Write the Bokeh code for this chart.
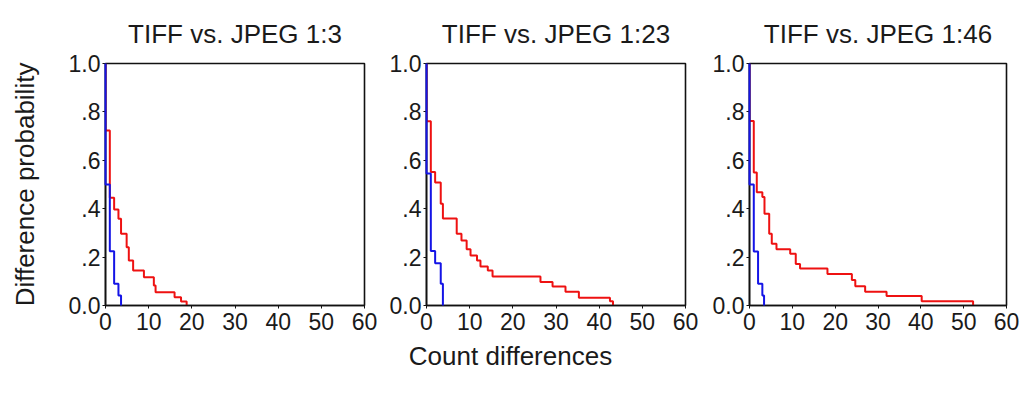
from bokeh.plotting import figure
from bokeh.layouts import row, column
from bokeh.models import Range1d, FixedTicker
from bokeh.core.properties import value
from bokeh.embed import file_html
from bokeh.resources import INLINE

# ---- data ----
titles = ["TIFF vs. JPEG 1:3", "TIFF vs. JPEG 1:23", "TIFF vs. JPEG 1:46"]
x_ticks = [0, 10, 20, 30, 40, 50, 60]
y_ticks = [0.0, 0.2, 0.4, 0.6, 0.8, 1.0]
y_tick_labels = ["0.0", ".2", ".4", ".6", ".8", "1.0"]
y_label = "Difference probability"
x_label = "Count differences"

# panel 1 (1:3)
blue1_x = [0, 0, 1, 2, 3, 3.6]
blue1_y = [1.0, 0.5, 0.224, 0.09, 0.041, 0.0]
red1_x = [0, 0, 1, 2, 3, 3.6, 4.9, 5.4, 6.4, 8.9, 11.2, 11.6, 16, 17.5, 18.8]
red1_y = [1.0, 0.723, 0.445, 0.397, 0.358, 0.296, 0.241, 0.186, 0.145, 0.117, 0.083, 0.055, 0.034, 0.017, 0.0]

# panel 2 (1:23)
blue2_x = [0, 0, 1, 2, 3.3, 3.8]
blue2_y = [1.0, 0.545, 0.225, 0.175, 0.09, 0.0]
red2_x = [0, 0, 1, 2, 3.3, 3.8, 7, 8.1, 9.3, 10.2, 11.7, 12.5, 14.2, 15.3, 26.4, 29.2, 32.2, 35.3, 42.5, 43.2]
red2_y = [1.0, 0.761, 0.552, 0.508, 0.42, 0.359, 0.297, 0.269, 0.232, 0.207, 0.186, 0.161, 0.145, 0.12, 0.097, 0.079, 0.057, 0.032, 0.018, 0.0]

# panel 3 (1:46)
blue3_x = [0, 0, 1, 2, 3, 3.4]
blue3_y = [1.0, 0.5, 0.223, 0.09, 0.041, 0.0]
red3_x = [0, 0, 1, 1.7, 3, 3.5, 4.6, 5.2, 6.3, 9.5, 10.8, 11.8, 18.2, 23.9, 24.7, 27, 32, 40.2, 52.2]
red3_y = [1.0, 0.762, 0.55, 0.468, 0.448, 0.379, 0.297, 0.255, 0.232, 0.214, 0.172, 0.153, 0.13, 0.105, 0.08, 0.057, 0.039, 0.018, 0.0]

series = [
    (blue1_x, blue1_y, red1_x, red1_y),
    (blue2_x, blue2_y, red2_x, red2_y),
    (blue3_x, blue3_y, red3_x, red3_y),
]

FONT = "Liberation Sans"
TXT = "#1a1a1a"
RED = "#ee1111"
BLUE = "#1414e6"

# layout: (min_border_left, frame_width, min_border_right)
geom = [(105, 259, 13), (49, 259, 13), (51, 257, 25)]

figs = []
for i, (title, (bx, by, rx, ry), (bl, fw, br)) in enumerate(zip(titles, series, geom)):
    p = figure(frame_width=fw, frame_height=242,
               min_border_left=bl, min_border_right=br,
               min_border_top=63, min_border_bottom=30,
               x_range=Range1d(0, 60), y_range=Range1d(0, 1),
               output_backend="svg", toolbar_location=None,
               background_fill_color="white", border_fill_color="white")
    p.title.text = title
    p.title.align = "center"
    p.title.text_font = FONT
    p.title.text_font_size = "26px"
    p.title.text_font_style = "normal"
    p.title.text_color = TXT
    p.title.standoff = 30

    p.grid.visible = False
    p.outline_line_color = "#111111"
    p.outline_line_width = 1.6

    for ax in (p.xaxis[0], p.yaxis[0]):
        ax.axis_line_color = "#111111"
        ax.axis_line_width = 1.6
        ax.major_tick_line_color = "#111111"
        ax.major_tick_out = 3
        ax.major_tick_in = 0
        ax.minor_tick_out = 0
        ax.minor_tick_in = 0
        ax.major_label_text_font = FONT
        ax.major_label_text_font_size = "23px"
        ax.major_label_text_color = TXT

    p.xaxis.ticker = FixedTicker(ticks=x_ticks)
    p.xaxis.major_label_standoff = 4
    p.yaxis.ticker = FixedTicker(ticks=y_ticks)
    p.yaxis.major_label_overrides = {t: s for t, s in zip(y_ticks, y_tick_labels)}
    p.yaxis.major_label_standoff = 2

    if i == 0:
        p.yaxis.axis_label = y_label
        p.yaxis.axis_label_text_font = FONT
        p.yaxis.axis_label_text_font_size = "26px"
        p.yaxis.axis_label_text_font_style = "normal"
        p.yaxis.axis_label_text_color = TXT
        p.yaxis.axis_label_standoff = 26

    p.step(rx, ry, mode="after", line_color=RED, line_width=2)
    rb = p.step(bx, by, mode="after", line_color=BLUE, line_width=2)
    rb.level = "overlay"
    figs.append(p)

top_h = figs[0].frame_height + 63 + 30
strip_h = 394 - top_h

# bottom strip holding the shared x-axis label
lab = figure(width=1031, height=strip_h, x_range=Range1d(0, 1031), y_range=Range1d(0, strip_h),
             min_border=0, output_backend="svg", toolbar_location=None,
             background_fill_color="white", border_fill_color="white")
lab.axis.visible = False
lab.grid.visible = False
lab.outline_line_color = None
lab.text(x=[510], y=[strip_h - 20], text=[x_label], text_align="center", text_baseline="middle",
         text_font=value(FONT), text_font_size="26px", text_color=TXT)

layout = column(row(*figs), lab)
open("out.html", "w").write(file_html(layout, INLINE))
